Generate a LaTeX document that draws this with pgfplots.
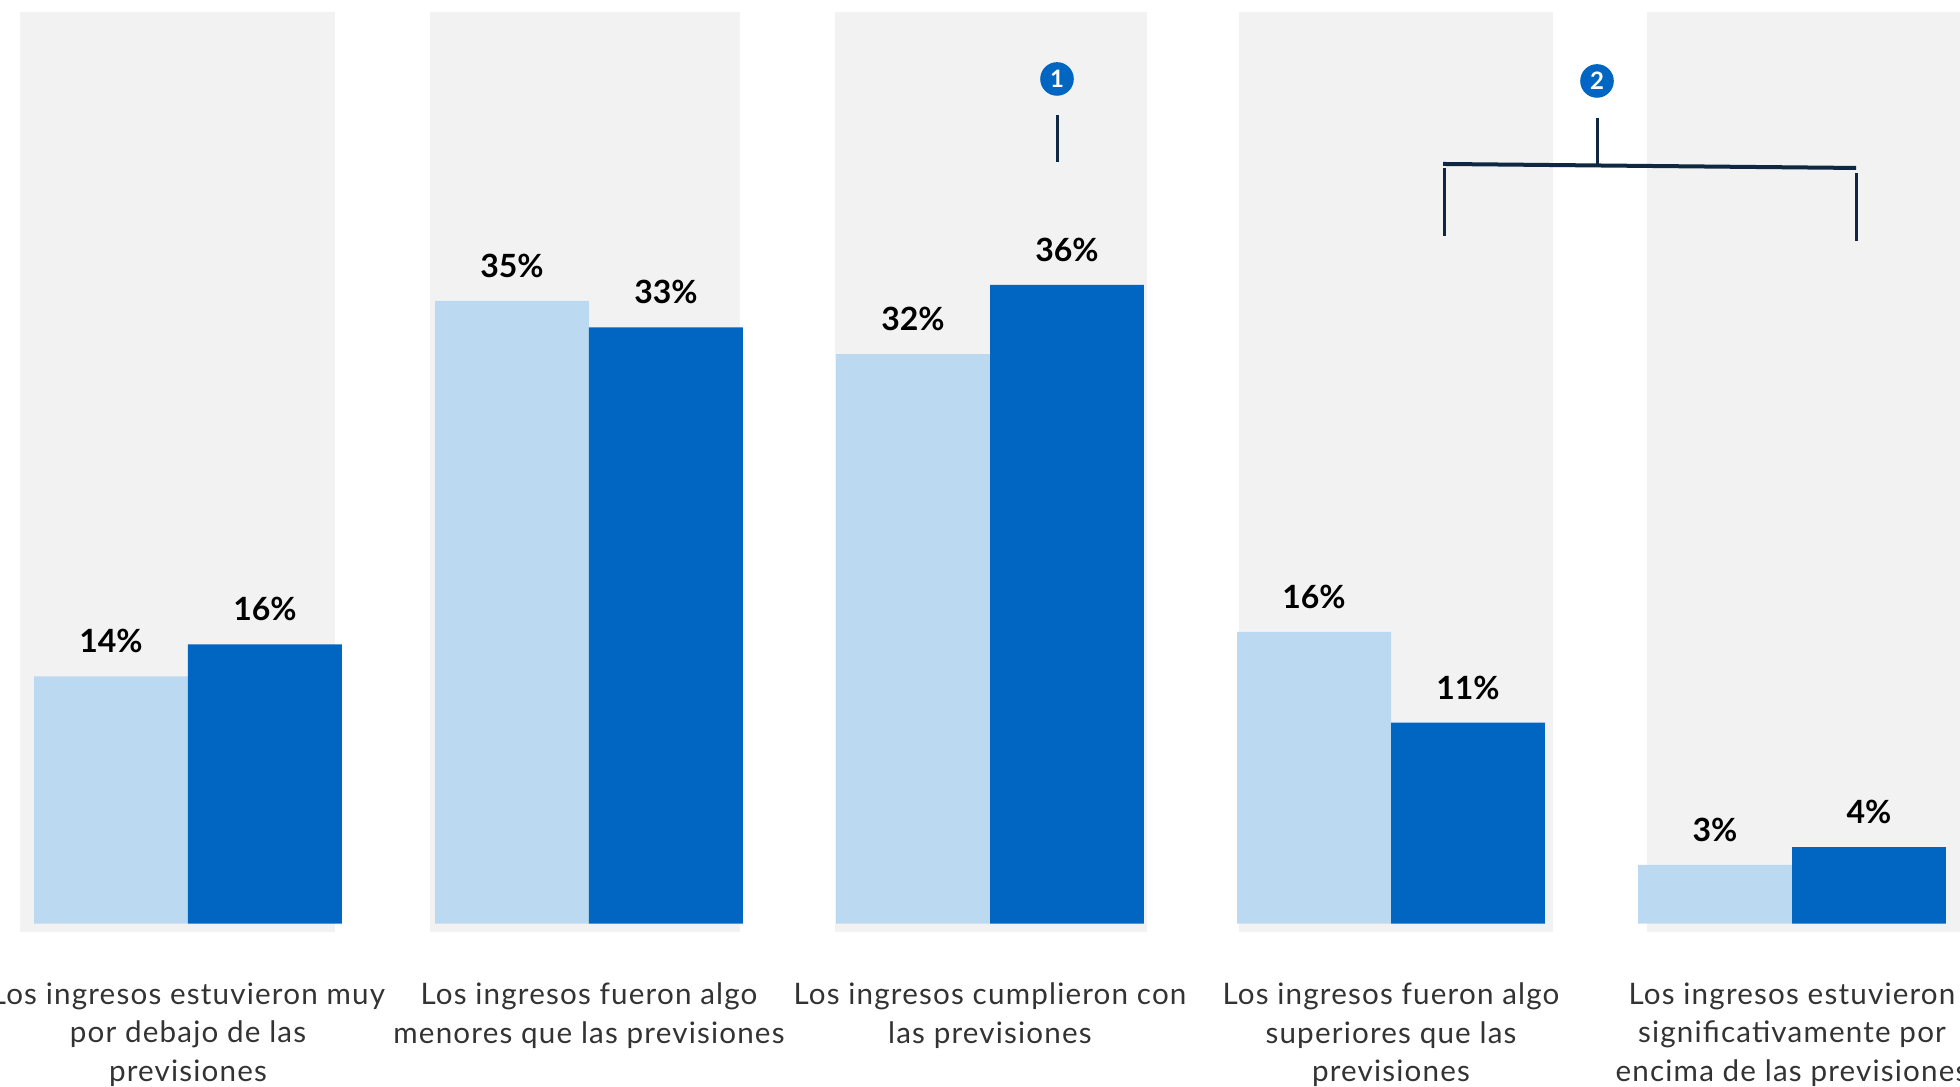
\documentclass[border=0pt]{standalone}
\usepackage{pgfplots}
\pgfplotsset{compat=1.18}
\usepackage{fontspec}
\setmainfont{Lato}
\newfontfamily\labelfont{Lato}[LetterSpace=4]

\definecolor{panelgray}{RGB}{242,242,242}
\definecolor{lightblue}{RGB}{187,218,242}
\definecolor{darkblue}{RGB}{0,102,194}
\definecolor{navy}{RGB}{14,40,65}

\begin{document}
\begin{tikzpicture}
\useasboundingbox (0,0) rectangle (490pt,271.75pt);

% grey panels behind each category (pixel grid of the reference)
\begin{scope}[x=0.25pt,y=-0.25pt,yshift=271.75pt]
\fill[panelgray] (20,12) rectangle (335,932);
\fill[panelgray] (430,12) rectangle (740,932);
\fill[panelgray] (835,12) rectangle (1147,932);
\fill[panelgray] (1239,12) rectangle (1553,932);
\fill[panelgray] (1647,12) rectangle (1970,932);
\end{scope}

\begin{axis}[
  at={(0pt,40.8125pt)}, anchor=south west,
  scale only axis, width=490pt, height=230.9375pt,
  xmin=-0.4688, xmax=4.419, ymin=0, ymax=51.9,
  clip=false,
  ybar, bar width=0.384,
  axis line style={draw=none},
  major tick length=0pt,
  ytick=\empty,
  xtick={0,1,2,3,4},
  xticklabels={
    {Los ingresos estuvieron muy\\por debajo de las\\previsiones},
    {Los ingresos fueron algo\\menores que las previsiones},
    {Los ingresos cumplieron con\\las previsiones},
    {Los ingresos fueron algo\\superiores que las\\previsiones},
    {Los ingresos estuvieron\\significativamente por\\encima de las previsiones}},
  xticklabel style={align=center, font=\labelfont\fontsize{7.4}{9.6}\selectfont,
    text=black!80, anchor=north, inner sep=0pt, yshift=-14.6pt},
  point meta=explicit symbolic,
  nodes near coords={\pgfplotspointmeta\%},
  every node near coord/.append style={font=\bfseries\fontsize{8}{8}\selectfont,
    anchor=south, inner sep=0pt, yshift=5.6pt, text=black},
]
\addplot[fill=lightblue, draw=none, bar shift=-0.192]
  coordinates {(0,13.9) [14] (1,35.0) [35] (2,32.0) [32] (3,16.4) [16] (4,3.3) [3]};
\addplot[fill=darkblue, draw=none, bar shift=0.192]
  coordinates {(0,15.7) [16] (1,33.5) [33] (2,35.9) [36] (3,11.3) [11] (4,4.3) [4]};
\end{axis}

% callouts
\begin{scope}[x=0.25pt,y=-0.25pt,yshift=271.75pt]
\draw[navy, line width=0.75pt] (1057,115) -- (1057,162);
\draw[navy, line width=0.75pt] (1597,118) -- (1597,165);
\draw[navy, line width=1pt] (1443,164) -- (1856,168);
\draw[navy, line width=0.75pt] (1444,168) -- (1444,236);
\draw[navy, line width=0.75pt] (1856,173) -- (1856,241);
\node[circle, fill=darkblue, minimum size=8.4pt, inner sep=0pt, text=white,
  font=\bfseries\fontsize{6}{6}\selectfont] at (1057,79) {1};
\node[circle, fill=darkblue, minimum size=8.4pt, inner sep=0pt, text=white,
  font=\bfseries\fontsize{6}{6}\selectfont] at (1597,81) {2};
\end{scope}
\end{tikzpicture}
\end{document}
